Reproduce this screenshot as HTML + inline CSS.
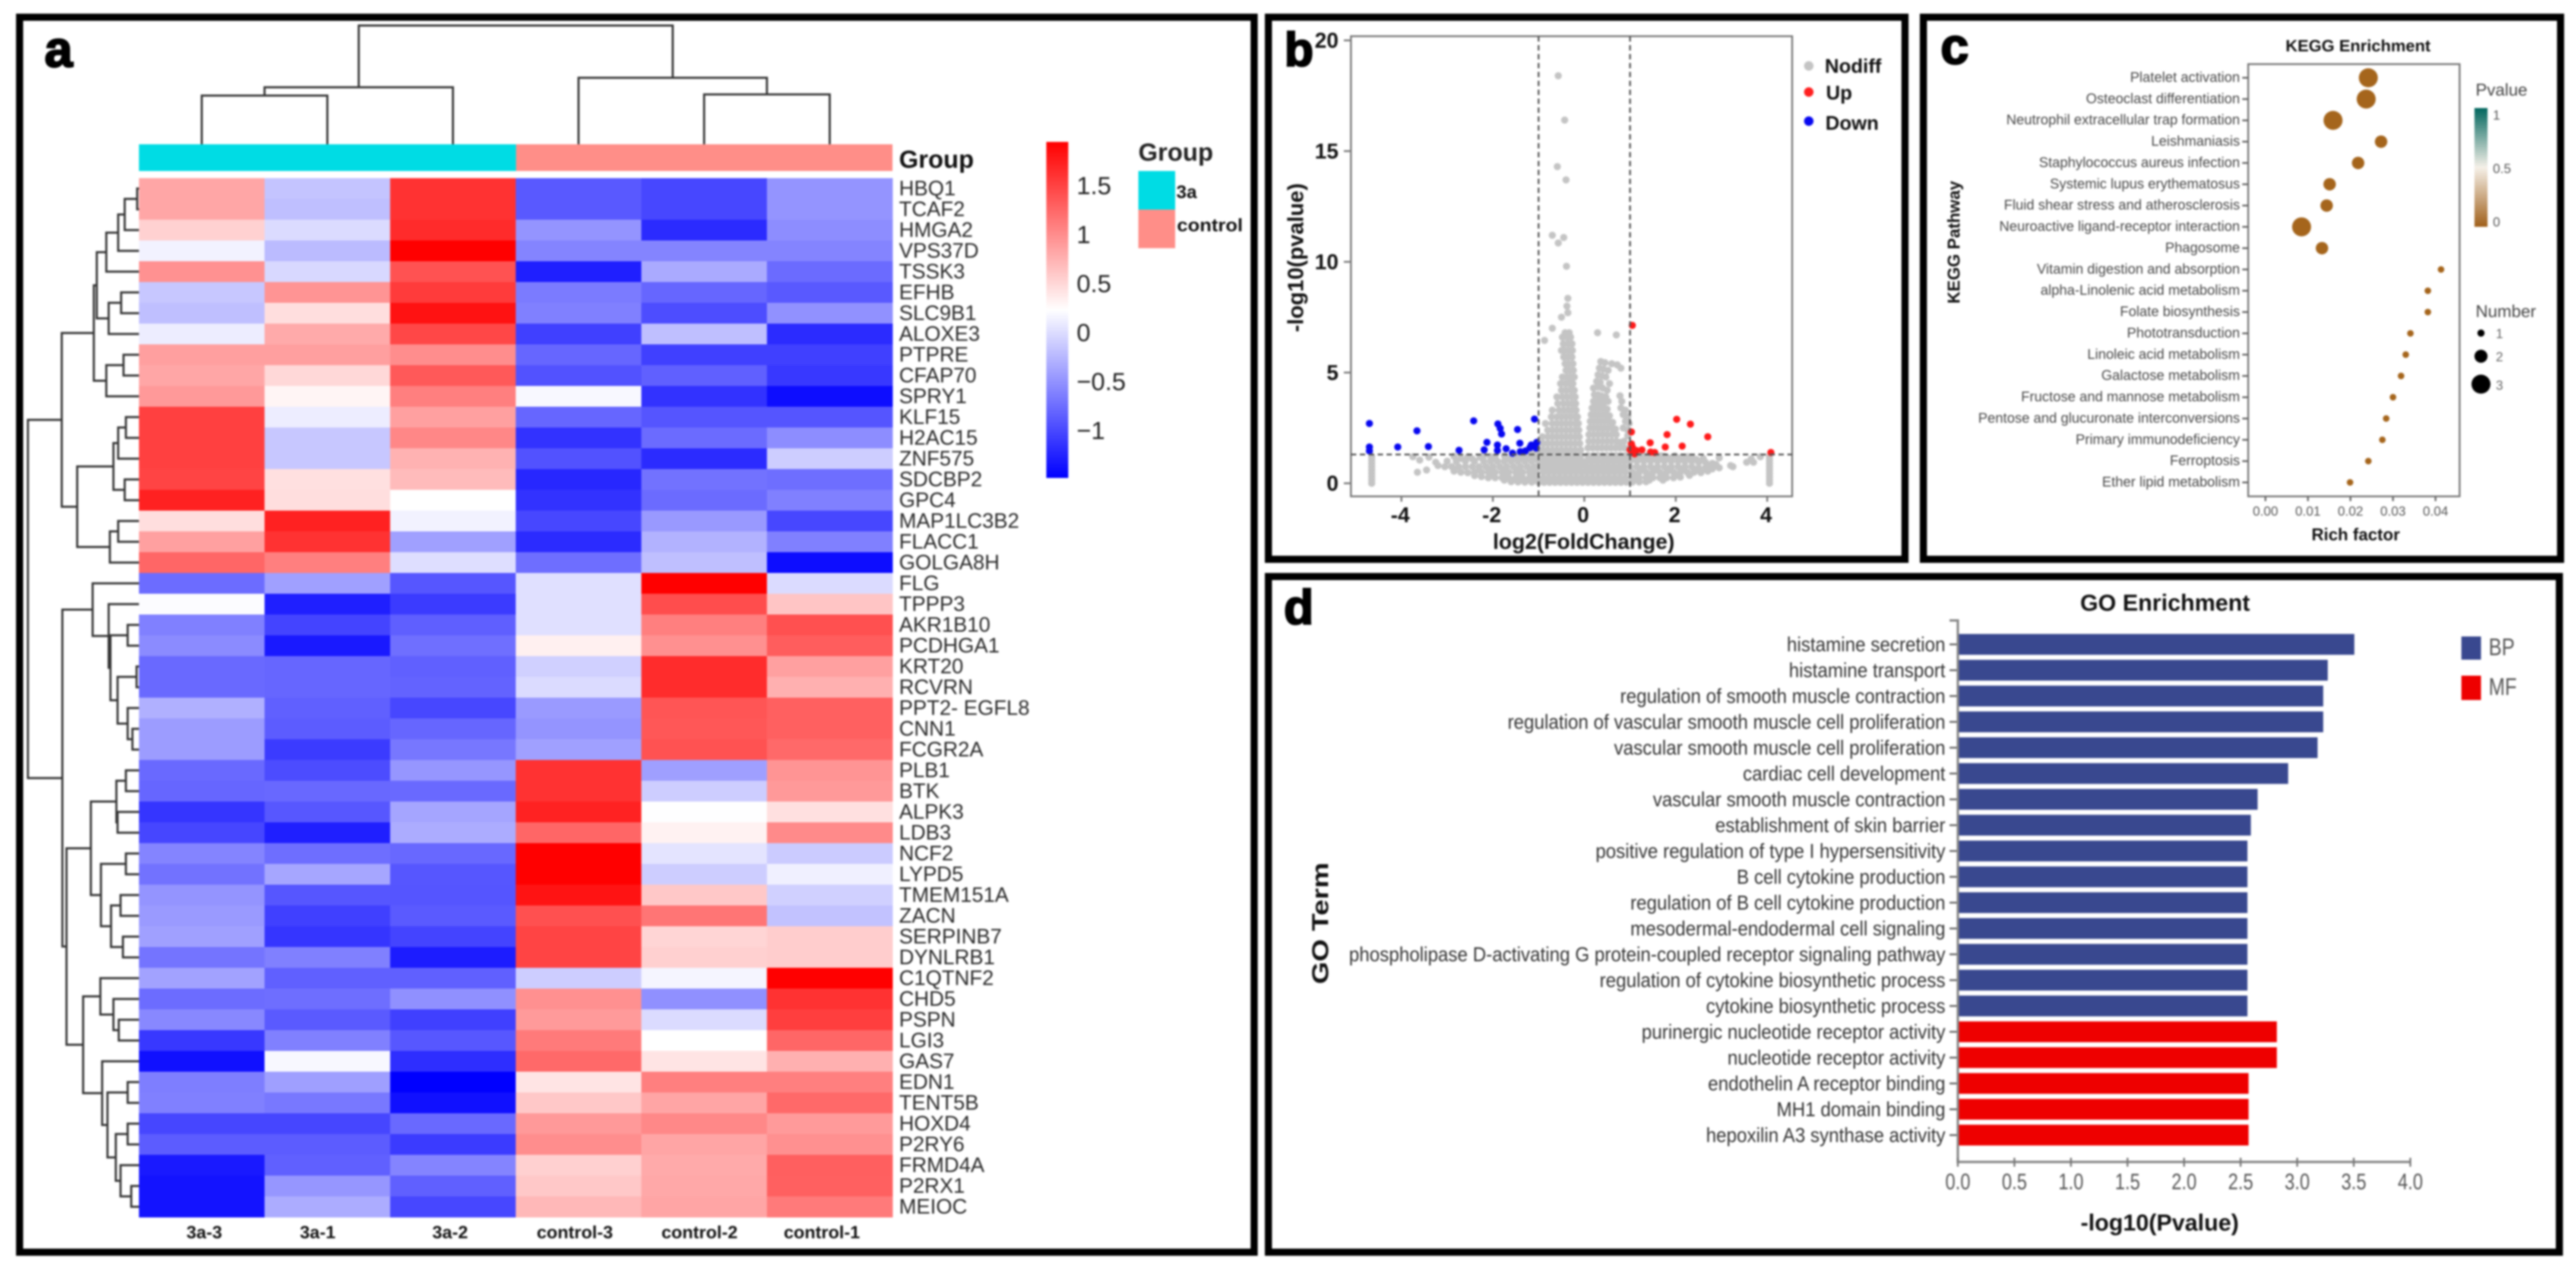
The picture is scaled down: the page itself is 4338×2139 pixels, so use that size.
<!DOCTYPE html>
<html lang="en">
<head>
<meta charset="utf-8">
<title>Transcriptome heatmap, volcano plot, KEGG and GO enrichment</title>
<style>
html,body{margin:0;padding:0;background:#fff;width:4338px;height:2139px;overflow:hidden}
svg{display:block;filter:blur(1.5px);font-family:"Liberation Sans",Arial,sans-serif}
text{dominant-baseline:central}
.panel{fill:none;stroke:#000;stroke-width:12}
.shade{fill:none;stroke:#cfcfcf;stroke-width:4}
.tag{font-weight:700;fill:#000;stroke:#000;stroke-width:3;dominant-baseline:auto}
.b{font-weight:700}
</style>
</head>
<body>
<svg id="figure" xmlns="http://www.w3.org/2000/svg" width="4338" height="2139" viewBox="0 0 4338 2139">
  <defs>
    <linearGradient id="heatGradient" x1="0" y1="0" x2="0" y2="1">
      <stop offset="0" stop-color="#ff0000"/><stop offset="0.5" stop-color="#ffffff"/><stop offset="1" stop-color="#0000ff"/>
    </linearGradient>
    <linearGradient id="pvalueGradient" x1="0" y1="0" x2="0" y2="1">
      <stop offset="0" stop-color="#01665e"/><stop offset="0.5" stop-color="#f5f0e8"/><stop offset="1" stop-color="#a0601a"/>
    </linearGradient>
  </defs>
  <rect width="4338" height="2139" fill="#fff"/>

  <!-- Panel frames -->
  <rect class="shade" x="35" y="31" width="2075" height="2076"/>
  <rect class="panel" x="33" y="29" width="2079" height="2080"/>
  <rect class="shade" x="2138" y="31" width="1072" height="909"/>
  <rect class="panel" x="2136" y="29" width="1072" height="913"/>
  <rect class="shade" x="3241" y="31" width="1071" height="909"/>
  <rect class="panel" x="3239" y="29" width="1073" height="913"/>
  <rect class="shade" x="2138" y="973" width="2172" height="1134"/>
  <rect class="panel" x="2136" y="971" width="2174" height="1138"/>

  <text class="tag" x="75" y="112" font-size="85">a</text>
  <text class="tag" x="2163" y="111" font-size="80">b</text>
  <text class="tag" x="3268" y="107" font-size="85">c</text>
  <text class="tag" x="2162" y="1051" font-size="82">d</text>

  <!-- Panel a -->
  <g id="panelA">
    <rect x="234" y="243" width="635" height="45" fill="#00dce4"/>
    <rect x="869" y="243" width="634" height="45" fill="#ff8e88"/>
    <text class="b" x="1514" y="268" font-size="42" fill="#111">Group</text>
    <rect x="1762" y="239" width="37" height="566" fill="url(#heatGradient)"/>
    <text class="b" x="1917" y="256" font-size="42" fill="#222">Group</text>
    <rect x="1917" y="288" width="62" height="65" fill="#00dce4"/>
    <rect x="1917" y="353" width="62" height="65" fill="#ff8e88"/>
    <text class="b" x="1981" y="323" font-size="31" fill="#111">3a</text>
    <text class="b" x="1982" y="379" font-size="31" fill="#111" textLength="111" lengthAdjust="spacingAndGlyphs">control</text>
  </g>

  <!-- Panel b -->
  <g id="panelB">
    <rect x="2275" y="61" width="743" height="775" fill="none" stroke="#777" stroke-width="3"/>
    <text class="b" x="2667" y="912" font-size="36" text-anchor="middle" fill="#111">log2(FoldChange)</text>
    <text class="b" transform="translate(2182,434) rotate(-90)" font-size="37" text-anchor="middle" fill="#111">-log10(pvalue)</text>
    <circle cx="3046" cy="111" r="8" fill="#c4c4c4"/>
    <circle cx="3046" cy="155" r="8" fill="#ff2020"/>
    <circle cx="3046" cy="204" r="8" fill="#0808f0"/>
    <text class="b" x="3073" y="111" font-size="33" fill="#111">Nodiff</text>
    <text class="b" x="3075" y="156" font-size="33" fill="#111">Up</text>
    <text class="b" x="3074" y="207" font-size="33" fill="#111">Down</text>
  </g>

  <!-- Panel c -->
  <g id="panelC">
    <rect x="3786" y="108" width="356" height="728" fill="none" stroke="#777" stroke-width="3"/>
    <text class="b" x="3971" y="77" font-size="28" text-anchor="middle" fill="#111">KEGG Enrichment</text>
    <text class="b" x="3967" y="901" font-size="28.5" text-anchor="middle" fill="#111">Rich factor</text>
    <text class="b" transform="translate(3291,408) rotate(-90)" font-size="28.4" text-anchor="middle" fill="#111">KEGG Pathway</text>
    <text x="4169" y="152" font-size="28.5" fill="#444">Pvalue</text>
    <rect x="4167" y="182" width="22" height="200" fill="url(#pvalueGradient)"/>
    <text x="4198" y="194" font-size="22" fill="#555">1</text>
    <text x="4198" y="284" font-size="22" fill="#555">0.5</text>
    <text x="4198" y="374" font-size="22" fill="#555">0</text>
    <text x="4169" y="525" font-size="28.6" fill="#444">Number</text>
    <circle cx="4178" cy="561" r="6" fill="#000"/>
    <circle cx="4178" cy="600" r="11" fill="#000"/>
    <circle cx="4178" cy="647" r="16" fill="#000"/>
    <text x="4203" y="562" font-size="22" fill="#666">1</text>
    <text x="4203" y="601" font-size="22" fill="#666">2</text>
    <text x="4203" y="649" font-size="22" fill="#666">3</text>
  </g>

  <!-- Panel d -->
  <g id="panelD">
    <text class="b" x="3646" y="1016" font-size="39" text-anchor="middle" fill="#111">GO Enrichment</text>
    <text class="b" x="3637" y="2060" font-size="39" text-anchor="middle" fill="#111">-log10(Pvalue)</text>
    <text class="b" transform="translate(2224,1555) rotate(-90)" font-size="39" text-anchor="middle" fill="#111" textLength="205" lengthAdjust="spacingAndGlyphs">GO Term</text>
    <rect x="4145" y="1072" width="33" height="39" fill="#39488f"/>
    <rect x="4145" y="1138" width="33" height="41" fill="#ee0000"/>
    <text transform="translate(4191,1089) scale(.8,1)" font-size="41" fill="#555">BP</text>
    <text transform="translate(4191,1156) scale(.8,1)" font-size="41" fill="#555">MF</text>
  </g>
</svg>

<script>
/* ---------- Panel a data ---------- */
const geneLabels = ["HBQ1","TCAF2","HMGA2","VPS37D","TSSK3","EFHB","SLC9B1","ALOXE3","PTPRE","CFAP70","SPRY1","KLF15","H2AC15","ZNF575","SDCBP2","GPC4","MAP1LC3B2","FLACC1","GOLGA8H","FLG","TPPP3","AKR1B10","PCDHGA1","KRT20","RCVRN","PPT2- EGFL8","CNN1","FCGR2A","PLB1","BTK","ALPK3","LDB3","NCF2","LYPD5","TMEM151A","ZACN","SERPINB7","DYNLRB1","C1QTNF2","CHD5","PSPN","LGI3","GAS7","EDN1","TENT5B","HOXD4","P2RY6","FRMD4A","P2RX1","MEIOC"];
const sampleLabels = ["3a-3","3a-1","3a-2","control-3","control-2","control-1"];
const heatValues = [
[.83,-.17,1.61,-.89,-1.01,-.49],[.83,-.20,1.61,-.89,-1.01,-.49],[.54,-.01,1.66,-.49,-1.20,-.54],[.14,-.23,1.95,-.60,-.60,-.60],
[.97,-.03,1.40,-1.28,-.34,-.77],[-.15,.95,1.55,-.66,-.80,-.89],[-.20,.45,1.83,-.63,-.97,-.51],[.11,.80,1.47,-1.06,-.20,-1.20],
[.88,.88,1.00,-.80,-1.06,-1.06],[.83,.49,1.35,-.94,-.84,-1.11],[.92,.30,1.09,.18,-1.15,-1.40],[1.52,.11,.87,-.80,-.92,-.92],
[1.52,-.15,1.04,-1.15,-.77,-.54],[1.52,-.15,.75,-.94,-1.20,-.11],[1.49,.44,.69,-1.23,-.72,-.75],[1.73,.45,.23,-1.15,-.77,-.63],
[.45,1.73,.14,-1.01,-.46,-1.01],[.87,1.61,-.41,-1.20,-.29,-.63],[1.26,1.09,.01,-.75,-.20,-1.40],[-.76,-.41,-.91,.02,1.95,-.01],
[.21,-1.28,-1.09,.02,1.43,.62],[-.63,-1.03,-.85,.02,1.09,1.41],[-.55,-1.32,-.74,.33,.98,1.32],[-.78,-.80,-.84,-.09,1.65,.87],
[-.78,-.80,-.82,-.01,1.65,.76],[-.30,-.84,-1.01,-.45,1.38,1.30],[-.44,-.87,-.80,-.49,1.36,1.30],[-.44,-1.09,-.69,-.41,1.40,1.24],
[-.78,-.98,-.48,1.61,-.42,.95],[-.80,-.79,-.78,1.61,-.11,.92],[-1.13,-.90,-.38,1.72,.22,.44],[-1.02,-1.28,-.33,1.26,.32,1.02],
[-.60,-.75,-.79,1.95,.05,-.12],[-.72,-.37,-.91,1.95,-.11,.13],[-.49,-.91,-.92,1.82,.60,-.09],[-.45,-1.06,-.88,1.41,1.16,-.18],
[-.41,-1.13,-1.03,1.49,.51,.57],[-.71,-.63,-1.30,1.49,.55,.57],[-.40,-.84,-.84,-.11,.16,1.95],[-.76,-.75,-.52,.98,-.52,1.61],
[-.57,-.88,-1.06,.91,-.01,1.53],[-1.11,-.63,-.90,1.13,.23,1.26],[-1.38,.18,-1.18,1.24,.41,.76],[-.64,-.42,-1.49,.41,1.09,1.09],
[-.63,-.68,-1.38,.60,.84,1.24],[-1.02,-1.02,-.78,.92,1.03,.91],[-.87,-.87,-1.09,1.00,.84,.98],[-1.32,-.84,-.60,.55,.80,1.31],
[-1.36,-.48,-.84,.60,.82,1.30],[-1.36,-.33,-1.01,.71,.84,1.13]];
const colorbarTickValues = [1.5,1,.5,0,-.5,-1];
const colorbarTickLabels = ["1.5","1","0.5","0","\u22120.5","\u22121"];
const heatDomain = [-1.49,.23,1.95];
/* dendrograms: [merge height, child, child]; a bare number is a leaf index */
const rowTree = [47,
 [104,[158,[163,[179,[199,[210,[231,0,1],2],3],4],[183,[204,5,6],7]],[179,[208,8,9],10]],
      [130,[191,[199,[212,11,12],13],[210,14,15]],[185,[199,16,17],18]]],
 [105,[156,19,[183,20,[186,[215,21,22],[198,[230,23,24],[215,25,[223,26,27]]]]]],
      [112,[153,[196,[212,28,29],[198,30,31]],[170,[212,32,33],[187,[203,34,35],[207,36,37]]]],
           [140,[169,38,[191,39,[200,40,41]]],[172,42,[181,[215,43,44],[195,[215,45,46],[203,47,[221,48,49]]]]]]]]];
const colTree = [43,[147,[161,0,1],2],[131,3,[159,4,5]]];

/* ---------- Panel b data ---------- */
const xTicksB = [-4,-2,0,2,4];
const yTicksB = [0,5,10,15,20];
const upPoints = [[1.05,7.13],[1.03,2.32],[2.02,2.89],[2.32,2.67],[1.81,2.2],[2.7,2.1],[1.44,1.83],[1.77,1.64],[2.14,1.68],[1.03,1.78],[1.05,1.64],[1,1.51],[1.05,1.39],[1.14,1.48],[1.1,1.33],[1.26,1.51],[1.45,1.41],[1.54,1.39],[4.08,1.39]];
const downPoints = [[-4.7,2.7],[-4.7,1.64],[-4.7,1.46],[-4.08,1.64],[-3.66,2.37],[-3.41,1.66],[-2.74,1.49],[-2.42,2.82],[-1.89,2.68],[-1.84,2.48],[-1.81,2.23],[-2.13,1.85],[-2.19,1.51],[-1.9,1.73],[-1.9,1.48],[-1.71,1.56],[-1.57,1.36],[-1.46,2.43],[-1.41,1.81],[-1.4,1.43],[-1.29,1.46],[-1.19,1.61],[-1.16,1.73],[-1.09,2.9],[-1.04,1.85],[-1.05,1.59]];
const nodiffPoints = [
[-.57,18.4],[-.43,16.4],[-.59,14.3],[-.4,13.7],[-.7,11.2],[-.45,11.1],[-.57,10.85],[-.39,9.8],[-.36,8.35],[-.38,8],[-.36,7.7],[-.5,7.5],[-.7,7],[-.87,6.45],[.29,6.8],[.7,6.7],
[-.42,6.8],[-.33,6.8],[-.48,6.6],[-.38,6.6],[-.3,6.6],[-.46,6.3],[-.36,6.3],[-.27,6.3],[-.5,6],[-.42,6],[-.33,6],[-.26,6],[-.45,5.7],[-.36,5.7],[-.27,5.7],[-.42,5.4],[-.34,5.4],[-.25,5.4],[-.4,5.1],[-.32,5.1],[-.24,5.1],
[-.48,4.8],[-.38,4.8],[-.3,4.8],[-.22,4.8],[-.52,4.5],[-.42,4.5],[-.33,4.5],[-.25,4.5],[-.5,4.2],[-.4,4.2],[-.3,4.2],[-.22,4.2],[-.6,3.9],[-.48,3.9],[-.38,3.9],[-.28,3.9],[-.2,3.9],[-.58,3.6],[-.46,3.6],[-.36,3.6],[-.27,3.6],[-.19,3.6],
[-.7,3.3],[-.55,3.3],[-.45,3.3],[-.35,3.3],[-.26,3.3],[-.18,3.3],[-.72,3],[-.6,3],[-.5,3],[-.4,3],[-.3,3],[-.2,3],[-.15,3],[-.85,2.7],[-.7,2.7],[-.6,2.7],[-.5,2.7],[-.4,2.7],[-.3,2.7],[-.2,2.7],[-.13,2.7],
[-.8,2.4],[-.7,2.4],[-.6,2.4],[-.5,2.4],[-.4,2.4],[-.3,2.4],[-.2,2.4],[-.12,2.4],[-.92,2.1],[-.8,2.1],[-.7,2.1],[-.6,2.1],[-.5,2.1],[-.4,2.1],[-.3,2.1],[-.2,2.1],[-.11,2.1],
[-1,1.8],[-.9,1.8],[-.8,1.8],[-.7,1.8],[-.6,1.8],[-.5,1.8],[-.4,1.8],[-.3,1.8],[-.2,1.8],[-.1,1.8],[-1,1.5],[-.9,1.5],[-.8,1.5],[-.7,1.5],[-.6,1.5],[-.5,1.5],[-.4,1.5],[-.3,1.5],[-.2,1.5],[-.08,1.5],
[.36,5.5],[.45,5.45],[.6,5.4],[.72,5.35],[.33,5.2],[.42,5.15],[.52,5.1],[.8,5.2],[.3,4.9],[.38,4.85],[.47,4.8],[.27,4.6],[.35,4.55],[.55,4.5],[.2,4.3],[.3,4.35],[.4,4.3],[.5,4.2],[.22,4],[.3,4],[.38,3.95],[.47,3.9],[.78,3.95],
[.2,3.7],[.28,3.7],[.36,3.7],[.44,3.65],[.52,3.7],[.82,3.7],[.17,3.4],[.25,3.4],[.33,3.4],[.41,3.4],[.5,3.35],[.8,3.4],[.9,3.3],[.15,3.1],[.23,3.1],[.31,3.1],[.39,3.1],[.47,3.1],[.55,3.05],[.85,3.1],[.95,3],
[.13,2.8],[.21,2.8],[.29,2.8],[.37,2.8],[.45,2.8],[.53,2.8],[.62,2.75],[.9,2.8],[.98,2.7],[.12,2.5],[.2,2.5],[.28,2.5],[.36,2.5],[.44,2.5],[.52,2.5],[.6,2.5],[.68,2.45],[.85,2.5],[.95,2.4],
[.1,2.2],[.2,2.2],[.3,2.2],[.4,2.2],[.5,2.2],[.6,2.2],[.7,2.2],[.95,2.15],[.1,1.9],[.2,1.9],[.3,1.9],[.4,1.9],[.5,1.9],[.6,1.9],[.7,1.9],[.78,1.85],[.87,1.9],[.08,1.6],[.18,1.6],[.28,1.6],[.38,1.6],[.48,1.6],[.58,1.6],[.68,1.6],[.78,1.6],[.88,1.6],[.98,1.55],
[-2.85,1.22],[-2.55,1.2],[-2.2,1.25],[-2.05,1.2],[-1.75,1.25],[-1.4,1.2],[-1.15,1.27],[-1,1.25],[-.9,1.25],[-.8,1.25],[-.7,1.25],[-.6,1.25],[-.5,1.25],[-.4,1.25],[-.3,1.25],[-.2,1.25],[-.08,1.25],[.08,1.25],[.2,1.25],[.3,1.25],[.4,1.25],[.5,1.25],[.6,1.25],[.7,1.25],[.8,1.25],[.9,1.25],[1.3,1.24],[1.55,1.2],[1.75,1.22],[2.05,1.15],[2.35,1.18],[2.6,1.12],
[-3.25,.95],[-3,1],[-2.8,1],[-2.6,1],[-2.4,1],[-2.2,1],[-2.05,1],[-1.9,1],[-1.75,1],[-1.6,1],[-1.45,1],[-1.3,1],[-1.15,1],[-1,1],[-.88,1],[-.76,1],[-.64,1],[-.52,1],[-.4,1],[-.28,1],[-.16,1],[-.05,1],[.05,1],[.17,1],[.29,1],[.41,1],[.53,1],[.65,1],[.77,1],[.89,1],[1,1],[1.15,1],[1.3,1],[1.45,1],[1.6,1],[1.75,1],[1.9,1],[2.05,1],[2.2,.98],[2.35,1],[2.5,.95],[2.65,.95],[2.8,.9],
[-3.2,.8],[-3.05,.75],[-2.9,.75],[-2.75,.75],[-2.6,.75],[-2.45,.75],[-2.3,.75],[-2.15,.75],[-2,.75],[-1.85,.75],[-1.7,.75],[-1.55,.75],[-1.4,.75],[-1.25,.75],[-1.1,.75],[-.95,.75],[-.82,.75],[-.7,.75],[-.58,.75],[-.46,.75],[-.34,.75],[-.22,.75],[-.1,.75],[.03,.75],[.15,.75],[.27,.75],[.39,.75],[.51,.75],[.63,.75],[.75,.75],[.87,.75],[1,.75],[1.15,.75],[1.3,.75],[1.45,.75],[1.6,.75],[1.75,.75],[1.9,.75],[2.05,.75],[2.2,.75],[2.35,.75],[2.5,.7],[2.65,.7],[2.8,.65],[2.95,.7],
[-2.85,.55],[-2.7,.5],[-2.55,.48],[-2.4,.5],[-2.25,.5],[-2.1,.5],[-1.95,.5],[-1.8,.5],[-1.65,.5],[-1.5,.5],[-1.35,.5],[-1.2,.5],[-1.05,.5],[-.9,.5],[-.78,.5],[-.66,.5],[-.54,.5],[-.42,.5],[-.3,.5],[-.18,.5],[-.06,.5],[.06,.5],[.18,.5],[.3,.5],[.42,.5],[.54,.5],[.66,.5],[.78,.5],[.9,.5],[1.05,.5],[1.2,.5],[1.35,.5],[1.5,.5],[1.65,.5],[1.8,.5],[1.95,.5],[2.1,.5],[2.25,.5],[2.4,.5],[2.55,.48],[2.7,.55],
[-2.4,.35],[-2.25,.3],[-2.1,.25],[-1.95,.25],[-1.8,.25],[-1.65,.25],[-1.5,.25],[-1.35,.25],[-1.2,.25],[-1.05,.25],[-.9,.25],[-.78,.25],[-.66,.25],[-.54,.25],[-.42,.25],[-.3,.25],[-.18,.25],[-.06,.25],[.06,.25],[.18,.25],[.3,.25],[.42,.25],[.54,.25],[.66,.25],[.78,.25],[.9,.25],[1.05,.25],[1.2,.25],[1.35,.25],[1.5,.25],[1.65,.25],[1.8,.25],[1.95,.25],[2.1,.28],
[-1.6,.07],[-1.45,.06],[-1.3,.05],[-1.15,.05],[-1,.04],[-.88,.04],[-.76,.04],[-.64,.04],[-.52,.04],[-.4,.04],[-.28,.04],[-.16,.04],[-.04,.04],[.08,.04],[.2,.04],[.32,.04],[.44,.04],[.56,.04],[.68,.04],[.8,.04],[.92,.05],[1.05,.05],[1.2,.06],[1.35,.07],
[-2.7,1.12],[-2.45,1.1],[-2.28,1.18],[-1.95,1.15],[-1.62,1.12],[-1.52,1.22],[-1.28,1.14],[-1.22,1.3],[-1.1,1.4],[-1.12,1.15],[1.02,1.18],[1.12,1.1],[1.2,1.22],[1.38,1.12],[1.42,1.26],[1.62,1.1],[1.68,1.24],[1.88,1.14],[1.98,1.24],[2.15,1.1],[2.25,1.2],[2.45,1.08],
[-2.3,.6],[-2.02,.62],[-1.72,.62],[-1.48,.6],[-1.18,.62],[1.22,.62],[1.52,.62],[1.82,.62],[2.12,.62],[2.42,.6],[2.72,.78],[2.88,.85],[-2.02,.38],[-1.72,.38],[-1.42,.38],[-1.12,.38],[1.12,.38],[1.42,.38],[1.72,.38],[2.02,.38],[2.3,.36],[-1.75,.14],[-1.4,.14],[-1.08,.14],[1.08,.14],[1.42,.14],[1.72,.14],
[-3.65,.5],[-3.45,.6],[-3.6,1.05],[-3.75,1.2],[-3.4,1.18],[3.2,.8],[3.25,.75],[3.55,.95],[3.7,.95],[3.65,1.1],[3.85,1.2],[2.95,1.15],
[-4.65,0],[-4.65,.15],[-4.65,.3],[-4.65,.45],[-4.65,.6],[-4.65,.75],[-4.65,.9],[-4.65,1.05],[-4.65,1.2],[4.05,0],[4.05,.15],[4.05,.3],[4.05,.45],[4.05,.6],[4.05,.75],[4.05,.9],[4.05,1.05],[4.05,1.2]];
const foldChangeCutoffs = [-1,1];
const pvalueCutoff = 1.3;

/* ---------- Panel c data ---------- */
const keggPathways = ["Platelet activation","Osteoclast differentiation","Neutrophil extracellular trap formation","Leishmaniasis","Staphylococcus aureus infection","Systemic lupus erythematosus","Fluid shear stress and atherosclerosis","Neuroactive ligand-receptor interaction","Phagosome","Vitamin digestion and absorption","alpha-Linolenic acid metabolism","Folate biosynthesis","Phototransduction","Linoleic acid metabolism","Galactose metabolism","Fructose and mannose metabolism","Pentose and glucuronate interconversions","Primary immunodeficiency","Ferroptosis","Ether lipid metabolism"];
const keggRichFactor = [.0242,.0237,.0159,.0272,.0218,.0151,.0144,.0085,.0133,.0413,.0382,.0382,.0341,.033,.0319,.03,.0284,.0275,.0242,.0199];
const keggNumber = [3,3,3,2,2,2,2,3,2,1,1,1,1,1,1,1,1,1,1,1];
const keggTicks = [0,.01,.02,.03,.04];
const keggTickLabels = ["0.00","0.01","0.02","0.03","0.04"];

/* ---------- Panel d data ---------- */
const goTerms = ["histamine secretion","histamine transport","regulation of smooth muscle contraction","regulation of vascular smooth muscle cell proliferation","vascular smooth muscle cell proliferation","cardiac cell development","vascular smooth muscle contraction","establishment of skin barrier","positive regulation of type I hypersensitivity","B cell cytokine production","regulation of B cell cytokine production","mesodermal-endodermal cell signaling","phospholipase D-activating G protein-coupled receptor signaling pathway","regulation of cytokine biosynthetic process","cytokine biosynthetic process","purinergic nucleotide receptor activity","nucleotide receptor activity","endothelin A receptor binding","MH1 domain binding","hepoxilin A3 synthase activity"];
const goValues = [3.505,3.27,3.23,3.23,3.18,2.92,2.65,2.59,2.56,2.56,2.56,2.56,2.56,2.56,2.56,2.82,2.82,2.57,2.57,2.57];
const goCategories = ["BP","BP","BP","BP","BP","BP","BP","BP","BP","BP","BP","BP","BP","BP","BP","MF","MF","MF","MF","MF"];
const goTicks = [0,.5,1,1.5,2,2.5,3,3.5,4];

/* ---------- helpers ---------- */
const NS = "http://www.w3.org/2000/svg";
function mk(parent, tag, attrs, content){
  const n = document.createElementNS(NS, tag);
  for (const k in attrs) n.setAttribute(k, attrs[k]);
  if (content !== undefined) n.textContent = content;
  parent.appendChild(n);
  return n;
}
const panelA = document.getElementById("panelA");
const panelB = document.getElementById("panelB");
const panelC = document.getElementById("panelC");
const panelD = document.getElementById("panelD");

/* ---------- Panel a drawing ---------- */
const heatLeft = 234, heatTop = 300, cellW = 211.5, cellH = 35;
const colX = i => heatLeft + cellW * i;
const rowY = i => heatTop + cellH * i;
function heatColor(v){
  const t = Math.max(-1, Math.min(1, v < heatDomain[1] ? (v - heatDomain[1]) / (heatDomain[1] - heatDomain[0]) : (v - heatDomain[1]) / (heatDomain[2] - heatDomain[1])));
  const c = Math.round(255 * (1 - Math.abs(t)));
  return t >= 0 ? `rgb(255,${c},${c})` : `rgb(${c},${c},255)`;
}
heatValues.forEach((row, r) => {
  row.forEach((v, c) => {
    const cell = mk(panelA, "rect", {x: colX(c), y: rowY(r), width: cellW + .5, height: cellH + .5, fill: heatColor(v)});
    
    
  });
  const gene = mk(panelA, "text", {x: 1514, y: rowY(r) + cellH / 2, "font-size": 35, fill: "#2a2a2a"}, geneLabels[r]);
  
  
});
const sampleCenters = [344,535,758,968,1178,1384];
sampleLabels.forEach((s, i) => {
  const lab = mk(panelA, "text", {x: sampleCenters[i], y: 2076, "font-size": 30, "font-weight": 700, "text-anchor": "middle", fill: "#111"}, s);
  
  
});
colorbarTickValues.forEach((v, i) => {
  const lab = mk(panelA, "text", {x: 1813, y: 560 - 165 * v, "font-size": 42, fill: "#222"}, colorbarTickLabels[i]);
  
  
});
function dendroPath(node, leafPos, toPoint, leafEdge, segs){
  if (typeof node === "number") return {pos: leafPos(node), h: leafEdge};
  const a = dendroPath(node[1], leafPos, toPoint, leafEdge, segs);
  const b = dendroPath(node[2], leafPos, toPoint, leafEdge, segs);
  const h = node[0];
  segs.push("M" + toPoint(a.pos, a.h) + "L" + toPoint(a.pos, h) + "L" + toPoint(b.pos, h) + "L" + toPoint(b.pos, b.h));
  return {pos: (a.pos + b.pos) / 2, h};
}
const rowSegs = [];
dendroPath(rowTree, i => rowY(i) + cellH / 2, (p, h) => h + " " + p, heatLeft, rowSegs);
const rowDendro = mk(panelA, "path", {d: rowSegs.join(""), fill: "none", stroke: "#333", "stroke-width": 3.5});


const colSegs = [];
dendroPath(colTree, i => colX(i) + cellW / 2, (p, h) => p + " " + h, 243, colSegs);
const colDendro = mk(panelA, "path", {d: colSegs.join(""), fill: "none", stroke: "#333", "stroke-width": 3.5});



/* ---------- Panel b drawing ---------- */
const xB = v => 2668 + 77 * v;
const yB = v => 814 - 37.3 * v;
nodiffPoints.forEach(p => {
  const pt = mk(panelB, "circle", {cx: xB(p[0]), cy: yB(p[1]), r: 6, fill: "#c4c4c4"});
  
  
});
upPoints.forEach(p => {
  const pt = mk(panelB, "circle", {cx: xB(p[0]), cy: yB(p[1]), r: 6, fill: "#ff1a1a"});
  
  
});
downPoints.forEach(p => {
  const pt = mk(panelB, "circle", {cx: xB(p[0]), cy: yB(p[1]), r: 6, fill: "#0808f0"});
  
  
});
foldChangeCutoffs.forEach(v => {
  const ln = mk(panelB, "line", {x1: xB(v), x2: xB(v), y1: 61, y2: 836, stroke: "#555", "stroke-width": 3, "stroke-dasharray": "9 6"});
  
  
});
const pLine = mk(panelB, "line", {x1: 2275, x2: 3018, y1: yB(pvalueCutoff), y2: yB(pvalueCutoff), stroke: "#555", "stroke-width": 3, "stroke-dasharray": "9 6"});


xTicksB.forEach(v => {
  const lab = mk(panelB, "text", {x: xB(v) - 2, y: 867, "font-size": 36, "font-weight": 700, "text-anchor": "middle", fill: "#111"}, String(v));
  
  
  const tick = mk(panelB, "line", {x1: xB(v), x2: xB(v), y1: 836, y2: 845, stroke: "#777", "stroke-width": 3});
  
  
});
yTicksB.forEach(v => {
  const lab = mk(panelB, "text", {x: 2254, y: yB(v), "font-size": 36, "font-weight": 700, "text-anchor": "end", fill: "#111"}, String(v));
  
  
  const tick = mk(panelB, "line", {x1: 2263, x2: 2275, y1: yB(v), y2: yB(v), stroke: "#777", "stroke-width": 3});
  
  
});

/* ---------- Panel c drawing ---------- */
const xC = v => 3815 + 7160 * v;
const yC = i => 131 + 35.87 * i;
const rC = n => [0, 5.5, 10.5, 16][n];
keggPathways.forEach((name, i) => {
  const lab = mk(panelC, "text", {x: 3772, y: yC(i), "font-size": 23.6, "text-anchor": "end", fill: "#484848"}, name);
  
  
  const tick = mk(panelC, "line", {x1: 3776, x2: 3786, y1: yC(i), y2: yC(i), stroke: "#666", "stroke-width": 3});
  
  
  const dot = mk(panelC, "circle", {cx: xC(keggRichFactor[i]), cy: yC(i), r: rC(keggNumber[i]), fill: "#a5651c"});
  
  
});
keggTicks.forEach((v, i) => {
  const tick = mk(panelC, "line", {x1: xC(v), x2: xC(v), y1: 836, y2: 844, stroke: "#666", "stroke-width": 3});
  
  
  const lab = mk(panelC, "text", {x: xC(v), y: 861, "font-size": 22, "text-anchor": "middle", fill: "#555"}, keggTickLabels[i]);
  
  
});

/* ---------- Panel d drawing ---------- */
const xD = v => 3297 + 190.5 * v;
const yD = i => 1085.3 + 43.5 * i;
const goColors = {BP: "#39488f", MF: "#ee0000"};
goTerms.forEach((name, i) => {
  const bar = mk(panelD, "rect", {x: xD(0), y: yD(i) - 17.5, width: xD(goValues[i]) - xD(0), height: 35, fill: goColors[goCategories[i]]});
  
  
  const lab = mk(panelD, "text", {transform: `translate(3276,${yD(i)}) scale(.912,1)`, "font-size": 34, "text-anchor": "end", fill: "#333"}, name);
  
  
  const tick = mk(panelD, "line", {x1: 3283, x2: 3297, y1: yD(i), y2: yD(i), stroke: "#666", "stroke-width": 3});
  
  
});
const goYAxis = mk(panelD, "path", {d: "M3283 1045H3297V1957H4059", fill: "none", stroke: "#888", "stroke-width": 4});


goTicks.forEach(v => {
  const tick = mk(panelD, "line", {x1: xD(v), x2: xD(v), y1: 1950, y2: 1965, stroke: "#777", "stroke-width": 3});
  
  
  const lab = mk(panelD, "text", {transform: `translate(${xD(v)},1991) scale(.8,1)`, "font-size": 38, "text-anchor": "middle", fill: "#555"}, v.toFixed(1));
  
  
});
</script>
</body>
</html>
